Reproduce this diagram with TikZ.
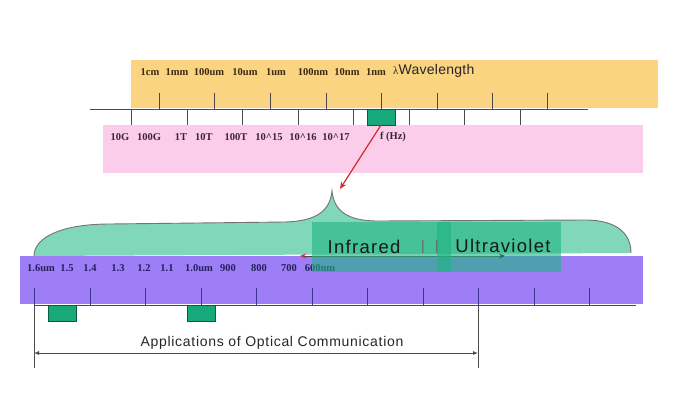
\documentclass[tikz,border=0pt]{standalone}
\usepackage{fontspec}
\setmainfont{Liberation Serif}
\newfontfamily\sansA{Liberation Sans}[LetterSpace=7]
\newfontfamily\sansB{Liberation Sans}[LetterSpace=5]
\newfontfamily\sansC{Liberation Sans}[LetterSpace=2]
\usetikzlibrary{arrows.meta}
\definecolor{orangeC}{HTML}{FAD480}
\definecolor{pinkC}{HTML}{FCCDEA}
\definecolor{purpleC}{HTML}{9D7EF7}
\definecolor{braceC}{HTML}{80D7B9}
\definecolor{greenC}{HTML}{17A97A}
\definecolor{greenD}{HTML}{0E5A40}
\definecolor{ovC}{HTML}{1FB482}
\definecolor{lineC}{HTML}{4A4A4A}
\definecolor{topTxt}{HTML}{3A2A12}
\definecolor{pinkTxt}{HTML}{3A2833}
\definecolor{purTxt}{HTML}{24215C}
\definecolor{purTick}{HTML}{3E3590}
\definecolor{redC}{HTML}{D42A2A}
\begin{document}
\begin{tikzpicture}[x=1pt,y=-1pt,
  band/.style={inner sep=0pt, outer sep=0pt, anchor=north west, draw=none},
  axis/.style={line width=1pt, draw=lineC},
  tickmark/.style={line width=1pt, draw=lineC},
  ptick/.style={line width=1pt, draw=purTick},
  serlbl/.style={font=\fontsize{10.5}{11}\selectfont\bfseries, inner sep=0pt},
  gbox/.style={band, fill=greenC, draw=greenD, line width=0.6pt, minimum width=28pt, minimum height=16pt},
  ovbox/.style={band, fill=ovC, fill opacity=0.6, minimum height=50pt},
  bigtxt/.style={font=\sansA\fontsize{18.5}{20}\selectfont, text=black!90, inner sep=0pt},
  bar/.style={font=\sansC\fontsize{14}{16}\selectfont, text=black!60, inner sep=0pt}
]
\useasboundingbox[fill=white] (0,0) rectangle (686,394);

% ---------- top scale ----------
\node[band, fill=orangeC, minimum width=527pt, minimum height=48pt] (wlband) at (131,60) {};
\node[band, fill=pinkC, minimum width=540pt, minimum height=48pt] (fband) at (103,125) {};
\coordinate (axL) at (90,109);
\coordinate (axR) at (588,109);
\draw[axis] (axL) -- (axR);
\foreach \x in {159,214,270,326,381,437,492,547}
  \draw[tickmark] (\x,93) -- (\x,109);
\foreach \x in {131,187,242,298,353,409,464,520}
  \draw[tickmark] (\x,109) -- (\x,125);
\node[gbox] (mark) at (367,109) {};

\foreach \x/\t [count=\i] in {150/1cm,177/1mm,209/100um,245/10um,276/1um,313/100nm,347/10nm,376/1nm}
  \node[serlbl, text=topTxt] (wl\i) at (\x,72) {\t};
\node[anchor=west, inner sep=0pt] (wltitle) at (393,71)
  {{\fontsize{11}{12}\selectfont\color{topTxt}λ}{\sansC\fontsize{14}{16}\selectfont\color{black!85}Wavelength}};

\foreach \x/\t [count=\i] in {120/10G,149/100G,181/1T,204/10T,236/100T,269/10\string^15,303/10\string^16,336/10\string^17,393/f (Hz)}
  \node[serlbl, text=pinkTxt] (fq\i) at (\x,137) {\t};

% ---------- brace ----------
\fill[braceC] (34,256) .. controls (34,238) and (60,224) .. (110,224) -- (285,222)
  .. controls (318,221) and (330,210) .. (332,191)
  .. controls (334,210) and (346,221) .. (378,221) -- (585,220)
  .. controls (620,220) and (631,236) .. (631,253) -- cycle;
\draw[line width=0.9pt, draw=black!55] (34,256) .. controls (34,238) and (60,224) .. (110,224) -- (285,222)
  .. controls (318,221) and (330,210) .. (332,191)
  .. controls (334,210) and (346,221) .. (378,221) -- (585,220)
  .. controls (620,220) and (631,236) .. (631,253);
\coordinate (peak) at (340,189);
\draw[line width=1.2pt, draw=redC, -{Stealth[length=7pt,width=6pt]}] (mark.south) -- (peak);

% ---------- lower scale ----------
\node[band, fill=purpleC, minimum width=623pt, minimum height=48pt] (lband) at (20,256) {};
\coordinate (bxL) at (34,305);
\coordinate (bxR) at (636,305);
\draw[axis] (bxL) -- (bxR);
\foreach \x in {90,145,201,256,312,367,423,534,589}
  \draw[ptick] (\x,288) -- (\x,305);
\coordinate (dimLt) at (34,288);
\coordinate (dimLb) at (34,368);
\coordinate (dimRt) at (478,288);
\coordinate (dimRb) at (478,368);
\draw[ptick] (dimLt) -- (34,305);
\draw[ptick] (dimRt) -- (478,305);
\draw[tickmark] (34,305) -- (dimLb);
\draw[tickmark] (478,305) -- (dimRb);
\node[gbox] (g1) at (48,305) {};
\node[gbox] (g2) at (187,305) {};

\foreach \x/\t [count=\i] in {41/1.6um,67/1.5,90/1.4,118/1.3,144/1.2,167/1.1,199/1.0um,228/900,259/800,289/700,320/600nm}
  \node[serlbl, text=purTxt] (nm\i) at (\x,268) {\t};

\coordinate (irL) at (300,256);
\coordinate (uvR) at (505,256);
\draw[line width=0.8pt, draw=black!70, {Stealth[length=6pt,width=5pt,color=redC]}-{Stealth[length=6pt,width=5pt,color=blue!55!black]}] (irL) -- (uvR);

\node[ovbox, minimum width=139pt] (irbox) at (312,222) {};
\node[ovbox, minimum width=124pt] (uvbox) at (437,222) {};
\node[bigtxt] (ir) at (364,247) {Infrared};
\node[bar] (bar1) at (423,247) {|};
\node[bar] (bar2) at (437,247) {|};
\node[bigtxt] (uv) at (503,246) {Ultraviolet};

% ---------- dimension ----------
\coordinate (dL) at (34,353);
\coordinate (dR) at (478,353);
\draw[line width=0.8pt, draw=black!70, {Latex[length=5pt,width=4pt]}-{Latex[length=5pt,width=4pt]}] (dL) -- (dR);
\node[font=\sansB\fontsize{14}{15}\selectfont, text=black!85, inner sep=0pt] (app) at (272,343) {Applications of Optical Communication};
\end{tikzpicture}
\end{document}
